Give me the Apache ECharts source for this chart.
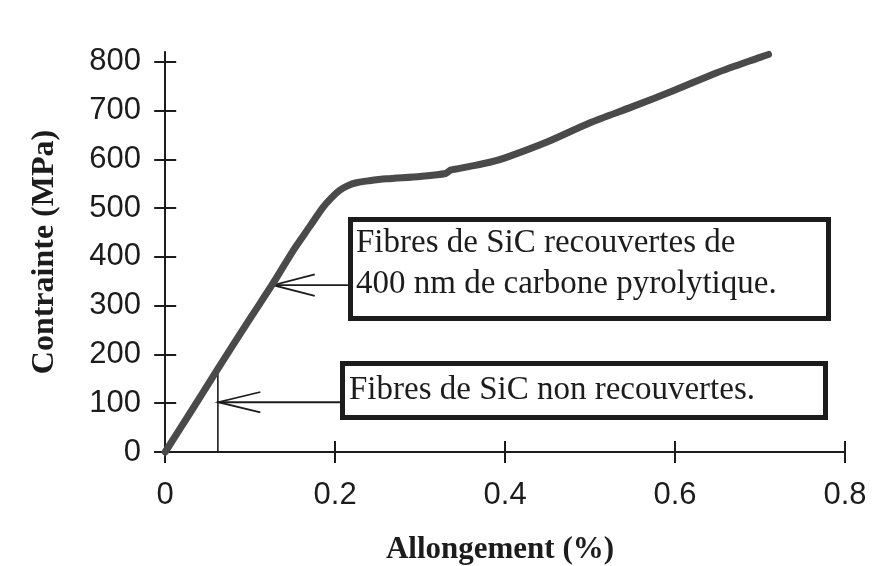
<!DOCTYPE html>
<html>
<head>
<meta charset="utf-8">
<script src="https://cdn.jsdelivr.net/npm/echarts@6/dist/echarts.min.js"></script>
<style>
  html, body { margin: 0; padding: 0; background: #ffffff; }
  #chart { width: 889px; height: 566px; }
</style>
</head>
<body>
<div id="chart"></div>
<script>
// Tensile curve of the composite reinforced with carbon-coated SiC fibres
const strainPct = [0, 0.03, 0.061, 0.1, 0.127, 0.151, 0.17, 0.185, 0.195, 0.205, 0.215, 0.225, 0.24, 0.26, 0.3, 0.33, 0.336, 0.345, 0.36, 0.382, 0.4, 0.45, 0.5, 0.55, 0.6, 0.65, 0.7, 0.71];
const stressMPa = [0, 82, 168, 274, 346, 414, 462, 500, 520, 536, 546, 552, 556, 560, 565, 571, 578, 581, 586, 594, 603, 636, 675, 708, 742, 778, 809, 815];

// Failure of the uncoated fibres: drop line from the curve down to the strain axis
const uncoatedStrain = 0.062;
const uncoatedStress = 168;

// Tick values (the axis lines run a little past the first and last ticks)
const xTicks = [0, 0.2, 0.4, 0.6, 0.8];
const yTicks = [0, 100, 200, 300, 400, 500, 600, 700, 800];
const xRange = [-0.012, 0.8];
const yRange = [0, 820];

// Annotation text
const labelCoated = ['Fibres de SiC recouvertes de', '400 nm de carbone pyrolytique.'];
const labelUncoated = 'Fibres de SiC non recouvertes.';

// Open-headed arrows, in data units: [tail at box], [tip], [arm ends]
const arrowCoated = { tail: [0.215, 342], tip: [0.127, 342], armA: [0.176, 364], armB: [0.176, 320] };
const arrowUncoated = { tail: [0.206, 102], tip: [0.0624, 102], armA: [0.112, 123], armB: [0.112, 81] };

const ink = '#1c1c1c';
const sansFont = '"Liberation Sans", Arial, sans-serif';
const serifFont = '"Liberation Serif", "Times New Roman", serif';

const curve = strainPct.map((x, i) => [x, stressMPa[i]]);

function arrowSeries(a) {
  return [
    { type: 'line', data: [a.tail, a.tip], symbol: 'none', silent: true, clip: false,
      lineStyle: { color: ink, width: 1.8 }, z: 3 },
    { type: 'line', data: [a.armA, a.tip, a.armB], symbol: 'none', silent: true, clip: false,
      lineStyle: { color: ink, width: 1.8, join: 'miter' }, z: 3 }
  ];
}

// Each axis is drawn twice on the same spot: once with outward ticks and labels,
// once with inward ticks, so the tick marks cross the axis line.
function makeAxis(range, ticks, inner, extra) {
  return Object.assign({
    type: 'value',
    min: range[0], max: range[1],
    offset: 0,
    splitLine: { show: false },
    axisLine: { show: true, onZero: false,
      lineStyle: { color: ink, width: 2, opacity: inner ? 0 : 1 } },
    axisTick: { show: true, inside: inner, length: 11, customValues: ticks,
      lineStyle: { color: ink, width: 2 } },
    axisLabel: { show: !inner, customValues: ticks }
  }, extra);
}

const chart = echarts.init(document.getElementById('chart'), null, { renderer: 'canvas' });

chart.setOption({
  backgroundColor: '#ffffff',
  animation: false,
  grid: { left: 155, right: 44, top: 52, bottom: 114, containLabel: false, outerBoundsMode: 'none' },
  xAxis: [
    makeAxis(xRange, xTicks, false, {
      position: 'bottom',
      axisLabel: { show: true, customValues: xTicks, fontSize: 31, fontFamily: sansFont, color: ink, margin: 28,
        formatter: v => String(+(+v).toFixed(1)) },
      name: 'Allongement (%)', nameLocation: 'middle', nameGap: 82,
      nameTextStyle: { fontFamily: serifFont, fontWeight: 'bold', fontSize: 31, color: ink }
    }),
    makeAxis(xRange, xTicks, true, { position: 'bottom' })
  ],
  yAxis: [
    makeAxis(yRange, yTicks, false, {
      position: 'left',
      axisLine: { show: true, onZero: true, lineStyle: { color: ink, width: 2 } },
      axisLabel: { show: true, customValues: yTicks, fontSize: 31, fontFamily: sansFont, color: ink, margin: 14 },
      name: 'Contrainte (MPa)', nameLocation: 'middle', nameGap: 94,
      nameTextStyle: { fontFamily: serifFont, fontWeight: 'bold', fontSize: 32, color: ink }
    }),
    makeAxis(yRange, yTicks, true, {
      position: 'left',
      axisLine: { show: true, onZero: true, lineStyle: { color: ink, width: 2, opacity: 0 } }
    })
  ],
  series: [
    {
      type: 'line',
      data: curve,
      symbol: 'none',
      smooth: 0.25,
      clip: false,
      lineStyle: { color: '#4a4a4a', width: 7, cap: 'round', join: 'round' },
      z: 4
    },
    {
      type: 'line',
      data: [[uncoatedStrain, uncoatedStress], [uncoatedStrain, 0]],
      symbol: 'none',
      silent: true,
      lineStyle: { color: ink, width: 1.6 },
      z: 3
    },
    ...arrowSeries(arrowCoated),
    ...arrowSeries(arrowUncoated)
  ],
  graphic: [
    { type: 'rect', shape: { x: 350.5, y: 219.5, width: 478, height: 99 },
      style: { fill: '#ffffff', stroke: ink, lineWidth: 5 }, z: 10 },
    { type: 'text', x: 356, y: 243, z: 11,
      style: { text: labelCoated[0], font: '33px ' + serifFont, fill: ink, verticalAlign: 'middle', align: 'left' } },
    { type: 'text', x: 356, y: 284, z: 11,
      style: { text: labelCoated[1], font: '33px ' + serifFont, fill: ink, verticalAlign: 'middle', align: 'left' } },
    { type: 'rect', shape: { x: 342.5, y: 363.5, width: 483, height: 54 },
      style: { fill: '#ffffff', stroke: ink, lineWidth: 5 }, z: 10 },
    { type: 'text', x: 349, y: 390, z: 11,
      style: { text: labelUncoated, font: '33px ' + serifFont, fill: ink, verticalAlign: 'middle', align: 'left' } }
  ]
});
</script>
</body>
</html>
